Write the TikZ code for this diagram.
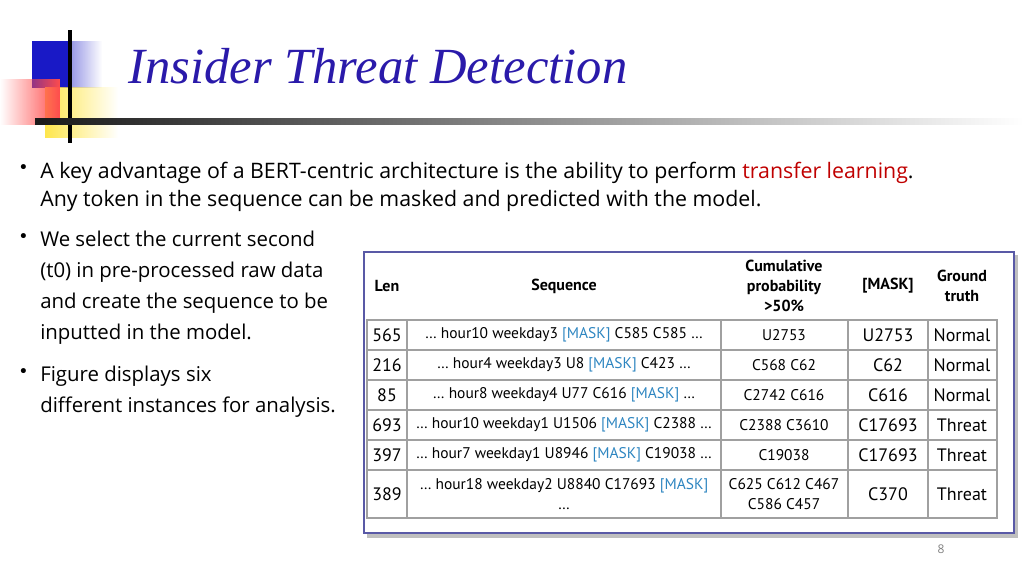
\documentclass[tikz,border=0pt]{standalone}
\usepackage{fontspec}
\setmainfont{Open Sans}
\newfontfamily\titlefont{Liberation Serif}
\newfontfamily\tabfont{PT Sans}
\newfontfamily\dotfont{DejaVu Sans}
\usetikzlibrary{fadings}
\definecolor{ttl}{HTML}{2A1AAA}
\definecolor{mask}{HTML}{2E86C1}
\definecolor{red1}{HTML}{C00000}
\definecolor{grid}{HTML}{A0A0A0}
\begin{document}
\begin{tikzpicture}[x=0.75pt,y=-0.75pt,
  cell/.style={font=\tabfont\fontsize{13.5}{15}\selectfont,align=center,inner sep=0},
  scell/.style={font=\tabfont\fontsize{11.6}{15}\selectfont,align=center,inner sep=0},
  hcell/.style={font=\tabfont\bfseries\fontsize{12}{15}\selectfont,align=center,inner sep=0},
  bul/.style={anchor=north west,align=left,inner sep=0,font=\fontsize{16}{21}\selectfont},
  dot/.style={anchor=north west,inner sep=0,font=\dotfont\fontsize{13}{21}\selectfont}]
\useasboundingbox (0,0) rectangle (1024,576);
% logo
\fill[blue!75!black!90, path fading=east] (32,41) rectangle (102,88);
\fill[blue!75!black!90] (32,41) rectangle (70,88);
\fill[yellow!80!orange!70, path fading=east] (45,87) rectangle (118,138);
\fill[red!70, path fading=west] (0,79) rectangle (60,125);
\draw[line width=2.5pt] (70,30) -- (70,143);
\shade[left color=black!90,right color=white] (35,118) rectangle (1024,124);
\node[anchor=base west,inner sep=0,text=ttl,font=\titlefont\itshape\fontsize{38}{40}\selectfont] (title) at (128,83) {Insider Threat Detection};
% bullets
\node[dot] (d1) at (18,164) {•};
\node[bul] (b1) at (40,162) {A key advantage of a BERT-centric architecture is the ability to perform \textcolor{red1}{transfer learning}.\\
Any token in the sequence can be masked and predicted with the model.};
\node[dot] (d2) at (18,233) {•};
\node[bul,font=\fontsize{15.3}{23.3}\selectfont] (b2) at (40,231) {We select the current second\\
(t0) in pre-processed raw data\\
and create the sequence to be\\
inputted in the model.};
\node[dot] (d3) at (18,368) {•};
\node[bul,font=\fontsize{15.3}{23.3}\selectfont] (b3) at (40,366) {Figure displays six\\
different instances for analysis.};
% table frame
\fill[black!25] (367,255) rectangle (1018,538);
\draw[draw=blue!30!gray,line width=1pt,fill=white] (364,252) rectangle (1014,533);
\draw[grid,line width=0.8pt] (367,320) rectangle (997,518);
\foreach \y in {350,380,410,440,470} \draw[grid,line width=0.8pt] (367,\y) -- (997,\y);
\foreach \x in {407,721,848,928} \draw[grid,line width=0.8pt] (\x,320) -- (\x,518);
% header
\node[hcell] (h1) at (387,286) {Len};
\node[hcell] (h2) at (564,286) {Sequence};
\node[hcell] (h3) at (784,286) {Cumulative\\probability\\{>}50\%};
\node[hcell] (h4) at (888,286) {[MASK]};
\node[hcell] (h5) at (962,286) {Ground\\truth};
% rows
\def\M{\textcolor{mask}{[MASK]}}
\foreach \yy/\a/\b/\c/\d/\e in {
 335/565/{… hour10 weekday3 \M{} C585 C585 …}/U2753/U2753/Normal,
 365/216/{… hour4 weekday3 U8 \M{} C423 …}/C568 C62/C62/Normal,
 395/85/{… hour8 weekday4 U77 C616 \M{} …}/C2742 C616/C616/Normal,
 425/693/{… hour10 weekday1 U1506 \M{} C2388 …}/C2388 C3610/C17693/Threat,
 455/397/{… hour7 weekday1 U8946 \M{} C19038 …}/C19038/C17693/Threat}{
 \node[cell] (l\a) at (387,\yy) {\a};
 \node[scell] (s\a) at (564,\yy) {\b};
 \node[scell] (c\a) at (784,\yy) {\c};
 \node[cell] (m\a) at (888,\yy) {\d};
 \node[cell] (g\a) at (962,\yy) {\e};
}
\node[cell] (l389) at (387,494) {389};
\node[scell] (s389) at (564,494) {… hour18 weekday2 U8840 C17693 \M\\…};
\node[scell] (c389) at (784,494) {C625 C612 C467\\C586 C457};
\node[cell] (m389) at (888,494) {C370};
\node[cell] (g389) at (962,494) {Threat};
\node[inner sep=0,text=gray,font=\fontsize{9}{10}\selectfont] (pg) at (941,549) {8};
\end{tikzpicture}
\end{document}
